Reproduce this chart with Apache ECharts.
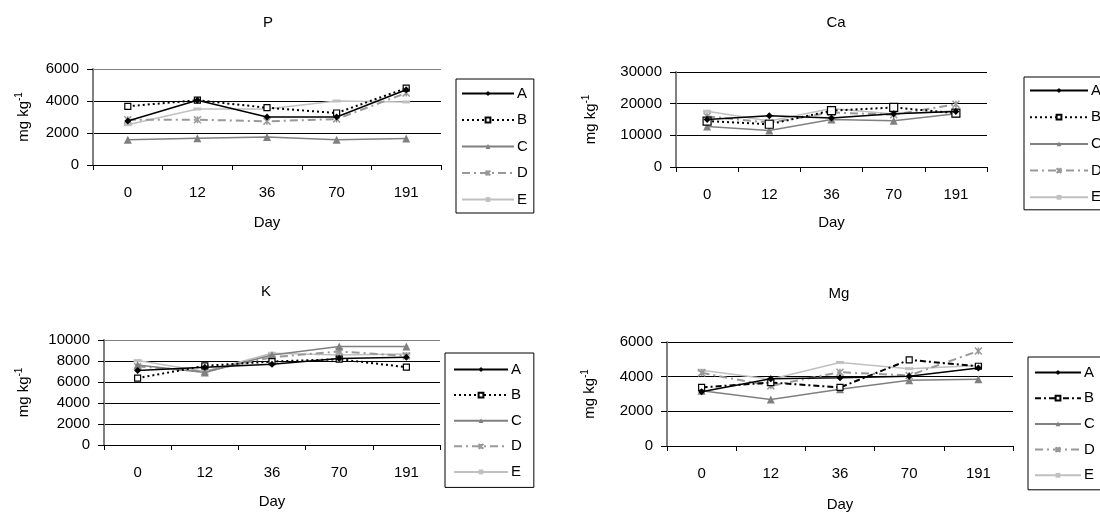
<!DOCTYPE html>
<html>
<head>
<meta charset="utf-8">
<script src="https://cdn.jsdelivr.net/npm/echarts@6/dist/echarts.min.js"></script>
<style>
html,body{margin:0;padding:0;background:#fff;}
#c{width:1100px;height:513px;}
</style>
</head>
<body>
<div id="c"></div>
<script>
const days = ['0', '12', '36', '70', '191'];
const seriesNames = ['A', 'B', 'C', 'D', 'E'];

const P_A = [2750, 4050, 3000, 3000, 4700];
const P_B = [3670, 4050, 3580, 3250, 4800];
const P_C = [1580, 1670, 1750, 1580, 1650];
const P_D = [2830, 2830, 2730, 2870, 4500];
const P_E = [2520, 3500, 3500, 4000, 3940];

const Ca_A = [15000, 16200, 15500, 16800, 17500];
const Ca_B = [14500, 13500, 17800, 18800, 17000];
const Ca_C = [12800, 11500, 15000, 14600, 16800];
const Ca_D = [16000, 14000, 17200, 16500, 19800];
const Ca_E = [17600, 14500, 18500, 16700, 17800];

const K_A = [7100, 7400, 7700, 8230, 8360];
const K_B = [6370, 7540, 7950, 8170, 7410];
const K_C = [7630, 6900, 8580, 9370, 9370];
const K_D = [7480, 7000, 8360, 8900, 8490];
const K_E = [8040, 7000, 8740, 8580, 8670];

const Mg_A = [3130, 3880, 3940, 4030, 4500];
const Mg_B = [3380, 3660, 3380, 4970, 4600];
const Mg_C = [3190, 2680, 3280, 3790, 3850];
const Mg_D = [4220, 3470, 4260, 4070, 5480];
const Mg_E = [4370, 3850, 4820, 4460, 4650];

const panels = [
  {title: 'P',  data: [P_A, P_B, P_C, P_D, P_E],  max: 6000,  interval: 2000,
   grid: {left: 93, top: 69, width: 348, height: 96}, titleX: 263, titleY: 10, nameGap: 60, dayGap: 50,
   legend: {left: 456, top: 79, itemWidth: 52, padding: [7, 6, 6, 5], itemGap: 11.5},
   bStyle: [2, 3], topGray: true},
  {title: 'Ca', data: [Ca_A, Ca_B, Ca_C, Ca_D, Ca_E], max: 30000, interval: 10000,
   grid: {left: 676, top: 72, width: 311, height: 95}, titleX: 831, titleY: 10, nameGap: 76, dayGap: 48,
   legend: {left: 1024, top: 77, itemWidth: 58, padding: [6, 6, 5, 5], itemGap: 11.7},
   bStyle: [2, 3], topGray: false},
  {title: 'K',  data: [K_A, K_B, K_C, K_D, K_E],  max: 10000, interval: 2000,
   grid: {left: 104, top: 340, width: 336, height: 105}, titleX: 261, titleY: 279, nameGap: 71, dayGap: 49,
   legend: {left: 445, top: 353, itemWidth: 54, padding: [9, 12, 8, 8], itemGap: 10.6},
   bStyle: [2, 3], topGray: true},
  {title: 'Mg', data: [Mg_A, Mg_B, Mg_C, Mg_D, Mg_E], max: 6000, interval: 2000,
   grid: {left: 667, top: 342, width: 346, height: 106}, titleX: 834, titleY: 281, nameGap: 68, dayGap: 51,
   legend: {left: 1028, top: 357, itemWidth: 46, padding: [8, 6, 7, 6], itemGap: 10.7},
   bStyle: [6, 3, 2, 3], topGray: false}
];

const FONT = 'Liberation Sans, Arial, sans-serif';
const FS = 15;
const asterisk = 'path://M0,0L10,10M0,10L10,0M5,0L5,10';

function seriesStyle(k, p) {
  switch (k) {
    case 0: return {symbol: 'diamond', symbolSize: 7, color: '#000',
      lineStyle: {color: '#000', width: 1.5, type: 'solid'}, itemStyle: {color: '#000'}};
    case 1: return {symbol: 'rect', symbolSize: p.title === 'Ca' ? 8 : 6, color: '#000',
      lineStyle: {color: '#000', width: 2, type: p.bStyle},
      itemStyle: {color: '#fff', borderColor: '#000', borderWidth: 1.2}};
    case 2: return {symbol: 'triangle', symbolSize: 8, color: '#808080',
      lineStyle: {color: '#808080', width: 1.5, type: 'solid'}, itemStyle: {color: '#808080'}};
    case 3: return {symbol: asterisk, symbolSize: 7, color: '#999',
      lineStyle: {color: '#999', width: 2, type: [8, 4, 2, 4]},
      itemStyle: {color: 'none', borderColor: '#999', borderWidth: 1.5}};
    default: return {symbol: 'rect', symbolSize: [8, 3], color: '#c0c0c0',
      lineStyle: {color: '#c0c0c0', width: 1.5, type: 'solid'}, itemStyle: {color: '#c0c0c0'}};
  }
}

const option = {
  animation: false,
  backgroundColor: '#fff',
  textStyle: {fontFamily: FONT, color: '#000'},
  title: [], grid: [], xAxis: [], yAxis: [], legend: [], series: []
};

panels.forEach((p, i) => {
  option.title.push({text: p.title, left: p.titleX, top: p.titleY, textAlign: 'center',
    textStyle: {fontFamily: FONT, fontSize: FS, fontWeight: 'normal', color: '#000'}});
  option.grid.push(Object.assign({containLabel: false}, p.grid));
  option.xAxis.push({type: 'category', gridIndex: i, data: days, boundaryGap: true,
    name: 'Day', nameLocation: 'middle', nameGap: p.dayGap,
    nameTextStyle: {fontFamily: FONT, fontSize: FS, color: '#000'},
    axisLine: {lineStyle: {color: '#000', width: 1}},
    axisTick: {show: true, length: 5, inside: false, lineStyle: {color: '#000'}},
    axisLabel: {fontFamily: FONT, fontSize: FS, color: '#000', margin: 20},
    splitLine: {show: false}});
  const nLines = p.max / p.interval + 1;
  const cols = [];
  for (let j = 0; j < nLines; j++) cols.push((j === nLines - 1 && p.topGray) ? '#808080' : '#000');
  option.yAxis.push({type: 'value', gridIndex: i, min: 0, max: p.max, interval: p.interval,
    name: 'mg kg{s|-1}', nameLocation: 'middle', nameGap: p.nameGap, nameRotate: 90,
    nameTextStyle: {fontFamily: FONT, fontSize: FS, color: '#000',
      rich: {s: {fontFamily: FONT, fontSize: 10, color: '#000', padding: [0, 0, 9, 0]}}},
    axisLine: {show: true, lineStyle: {color: '#808080', width: 2}},
    axisTick: {show: true, length: 6, inside: false, lineStyle: {color: '#000'}},
    axisLabel: {fontFamily: FONT, fontSize: FS, color: '#000', margin: 14, formatter: v => String(v)},
    splitLine: {show: true, lineStyle: {color: cols, width: 1}}});
  const names = seriesNames.map(n => p.title + ':' + n);
  option.legend.push({data: names, orient: 'vertical', left: p.legend.left, top: p.legend.top,
    itemWidth: p.legend.itemWidth, itemHeight: 6, itemGap: p.legend.itemGap,
    padding: p.legend.padding, borderColor: '#000', borderWidth: 1, backgroundColor: '#fff',
    selectedMode: false, formatter: n => n.split(':')[1],
    textStyle: {fontFamily: FONT, fontSize: FS, color: '#000', lineHeight: 14, padding: [0, 0, 0, -2]}});
  p.data.forEach((vals, k) => {
    const st = seriesStyle(k, p);
    option.series.push(Object.assign({type: 'line', name: names[k], xAxisIndex: i, yAxisIndex: i,
      data: vals, showSymbol: true, showAllSymbol: true, z: 10 - k}, st));
  });
});

const chart = echarts.init(document.getElementById('c'), null, {renderer: 'canvas'});
chart.setOption(option);
</script>
</body>
</html>
